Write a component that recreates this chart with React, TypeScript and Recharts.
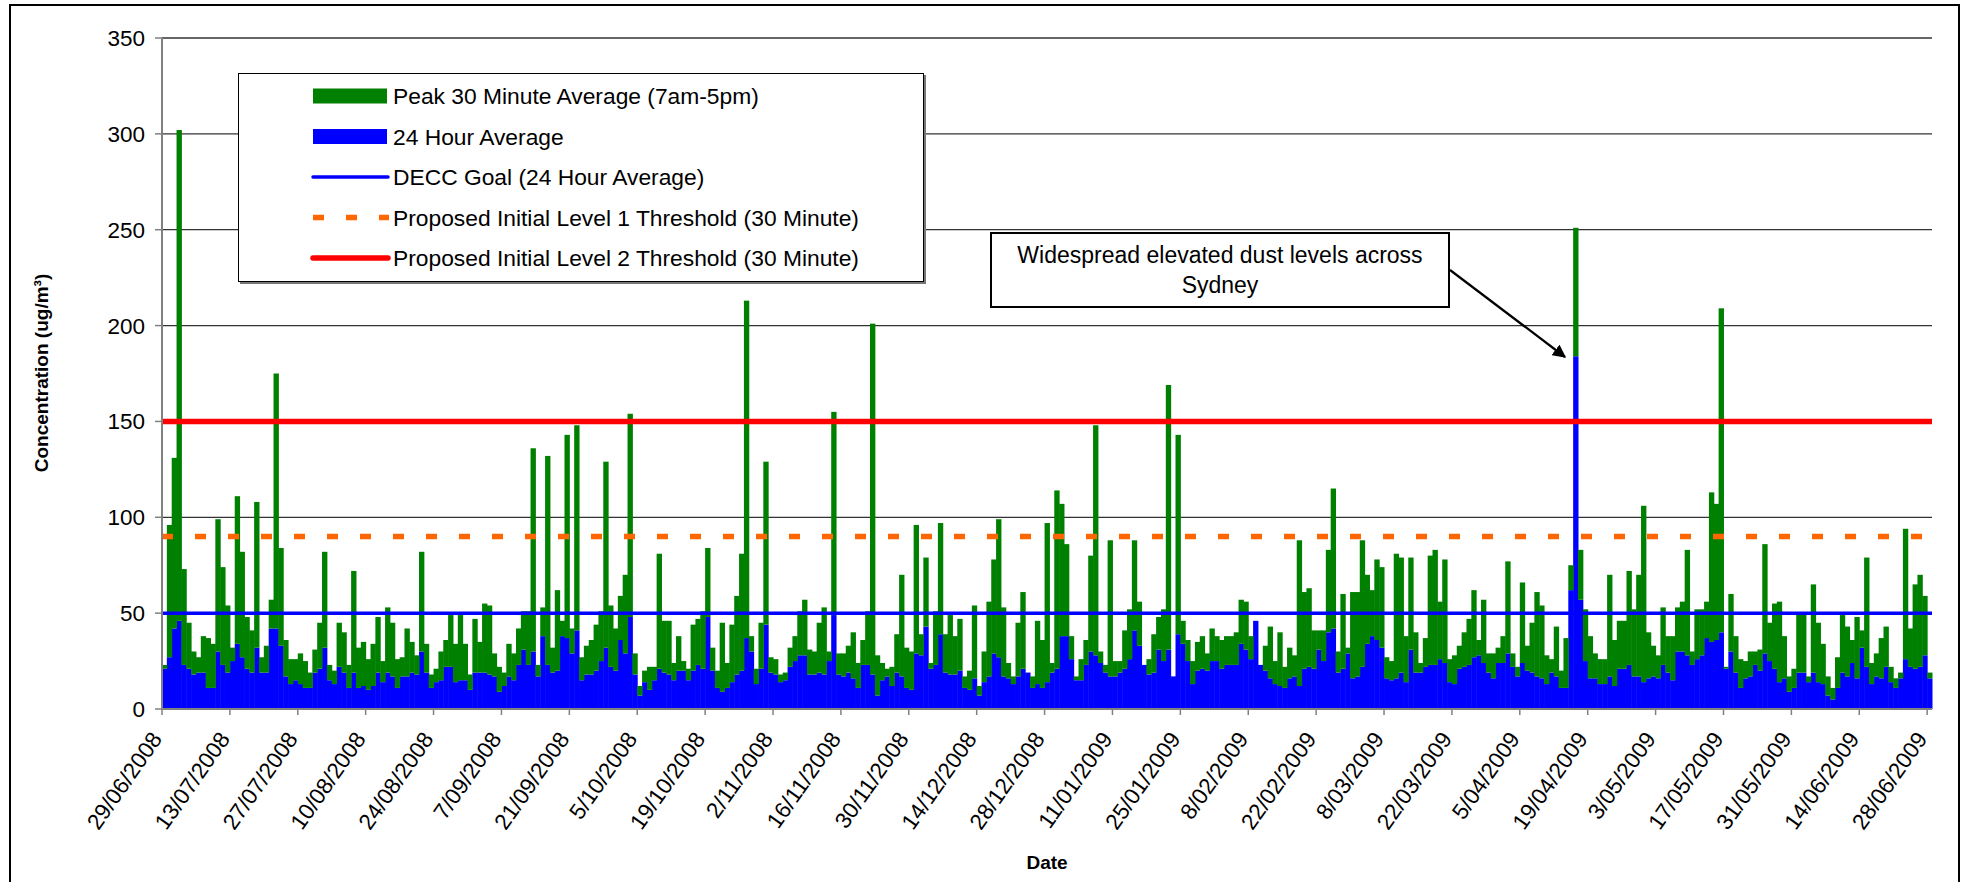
import { BarChart, Bar, XAxis, YAxis, CartesianGrid, ReferenceLine } from 'recharts';

// one value per day, 29/06/2008 .. 28/06/2009 (ug/m3)
const peak30Min: number[] = [
  23, 96, 131, 302, 73, 45, 30, 27, 38, 37,
  34, 99, 74, 54, 32, 111, 82, 48, 41, 108,
  27, 33, 57, 175, 84, 36, 26, 26, 29, 25,
  19, 31, 45, 82, 23, 20, 45, 40, 23, 72,
  32, 35, 26, 34, 48, 25, 53, 45, 26, 27,
  42, 35, 28, 82, 34, 18, 21, 30, 36, 49,
  34, 49, 34, 18, 47, 35, 55, 54, 29, 22,
  19, 34, 29, 42, 51, 51, 136, 23, 53, 132,
  32, 62, 46, 143, 42, 148, 27, 33, 36, 44,
  51, 129, 54, 42, 59, 70, 154, 29, 12, 20,
  22, 22, 81, 46, 46, 24, 38, 25, 21, 44,
  47, 51, 84, 32, 20, 45, 24, 44, 59, 81,
  213, 38, 21, 45, 129, 27, 26, 18, 19, 32,
  38, 51, 57, 31, 30, 45, 53, 30, 155, 29,
  29, 33, 40, 24, 36, 51, 201, 28, 24, 21,
  22, 39, 70, 32, 30, 96, 39, 79, 24, 51,
  97, 39, 49, 38, 47, 17, 20, 54, 12, 30,
  56, 78, 99, 53, 24, 17, 45, 61, 19, 17,
  46, 36, 97, 24, 114, 107, 86, 38, 17, 26,
  36, 80, 148, 30, 23, 88, 25, 25, 41, 52,
  88, 56, 23, 26, 39, 48, 52, 169, 17, 143,
  46, 36, 25, 35, 38, 29, 42, 38, 36, 38,
  38, 40, 57, 56, 38, 46, 23, 33, 43, 25,
  40, 22, 32, 28, 88, 61, 63, 41, 41, 41,
  83, 115, 30, 60, 32, 61, 61, 88, 70, 62,
  78, 74, 27, 25, 81, 79, 38, 79, 40, 24,
  37, 80, 83, 56, 78, 26, 28, 33, 40, 47,
  62, 36, 57, 29, 29, 32, 38, 77, 29, 22,
  66, 33, 45, 61, 54, 28, 26, 43, 20, 37,
  75, 251, 83, 52, 38, 29, 26, 26, 70, 36,
  46, 46, 72, 52, 70, 106, 40, 33, 28, 53,
  38, 38, 53, 56, 83, 30, 52, 52, 56, 113,
  107, 209, 22, 60, 38, 26, 25, 30, 30, 31,
  86, 45, 55, 56, 38, 17, 21, 50, 50, 17,
  65, 45, 34, 17, 11, 27, 49, 43, 36, 48,
  41, 79, 24, 29, 37, 43, 22, 16, 19, 94,
  42, 65, 70, 59, 19,
];

const avg24Hour: number[] = [
  21, 27, 42, 46, 23, 21, 18, 19, 19, 11,
  11, 30, 23, 19, 25, 34, 27, 21, 19, 32,
  19, 19, 42, 42, 33, 17, 13, 15, 13, 11,
  11, 19, 21, 32, 15, 13, 22, 19, 11, 19,
  11, 12, 10, 12, 19, 14, 19, 17, 11, 17,
  17, 19, 18, 30, 19, 11, 14, 15, 22, 22,
  14, 15, 15, 10, 19, 19, 19, 18, 17, 9,
  12, 17, 15, 23, 31, 23, 30, 17, 38, 23,
  19, 20, 38, 37, 29, 41, 15, 18, 18, 20,
  25, 32, 22, 20, 36, 29, 48, 18, 7, 14,
  10, 15, 21, 19, 18, 15, 20, 20, 15, 20,
  23, 21, 48, 20, 11, 9, 11, 14, 18, 20,
  37, 30, 13, 21, 44, 19, 18, 14, 15, 22,
  25, 28, 28, 18, 18, 19, 18, 25, 49, 18,
  17, 19, 16, 11, 23, 23, 18, 7, 15, 17,
  12, 19, 17, 11, 10, 29, 28, 43, 21, 23,
  39, 19, 18, 18, 20, 11, 10, 16, 7, 14,
  17, 29, 27, 17, 16, 13, 17, 21, 19, 11,
  13, 11, 14, 19, 21, 38, 38, 26, 15, 15,
  23, 30, 28, 24, 19, 17, 17, 19, 21, 26,
  41, 33, 23, 18, 19, 31, 25, 31, 17, 39,
  34, 25, 13, 20, 21, 20, 25, 25, 21, 23,
  23, 23, 34, 31, 26, 46, 23, 20, 16, 13,
  12, 11, 16, 17, 12, 21, 22, 21, 31, 25,
  40, 42, 19, 21, 29, 16, 17, 22, 34, 38,
  36, 32, 16, 15, 16, 19, 14, 31, 19, 19,
  22, 23, 23, 26, 24, 14, 13, 21, 22, 23,
  27, 28, 24, 19, 16, 24, 24, 29, 22, 17,
  24, 20, 19, 17, 16, 13, 19, 17, 11, 11,
  62, 184, 57, 25, 16, 16, 13, 13, 17, 12,
  21, 21, 23, 17, 17, 14, 16, 17, 16, 23,
  19, 15, 30, 30, 28, 23, 26, 28, 37, 35,
  36, 40, 21, 30, 19, 11, 16, 17, 23, 20,
  29, 25, 21, 14, 16, 9, 11, 19, 19, 14,
  19, 14, 13, 7, 5, 11, 19, 17, 24, 16,
  32, 22, 13, 17, 16, 22, 14, 11, 16, 26,
  22, 21, 22, 28, 16,
];

const DATE_TICKS = [
  '29/06/2008', '13/07/2008', '27/07/2008', '10/08/2008', '24/08/2008', '7/09/2008',
  '21/09/2008', '5/10/2008', '19/10/2008', '2/11/2008', '16/11/2008', '30/11/2008',
  '14/12/2008', '28/12/2008', '11/01/2009', '25/01/2009', '8/02/2009', '22/02/2009',
  '8/03/2009', '22/03/2009', '5/04/2009', '19/04/2009', '3/05/2009', '17/05/2009',
  '31/05/2009', '14/06/2009', '28/06/2009',
];

const Y_TICKS = [0, 50, 100, 150, 200, 250, 300, 350];

const DECC_GOAL = 50;
const LEVEL_1 = 90;
const LEVEL_2 = 150;

const FONT = '"Liberation Sans", Arial, sans-serif';
const PLOT_W = 1770;
const BAND = PLOT_W / peak30Min.length;

function dayLabel(offset: number): string {
  const d = new Date(Date.UTC(2008, 5, 29 + offset));
  const mm = String(d.getUTCMonth() + 1).padStart(2, '0');
  return `${d.getUTCDate()}/${mm}/${d.getUTCFullYear()}`;
}

// blue 24h average at the bottom, the rest of the peak stacked on top
const data = peak30Min.map((peak, i) => ({
  date: dayLabel(i),
  avg: avg24Hour[i],
  peakRest: Math.max(peak - avg24Hour[i], 0),
}));

function DateTick(props: any) {
  const { x, y, payload } = props;
  const edge = x - BAND / 2;
  return (
    <g>
      <line x1={edge} y1={y} x2={edge} y2={y + 6} stroke="#808080" strokeWidth={1.5} />
      <text
        x={edge + 1}
        y={y + 30}
        textAnchor="end"
        fontSize={22.5}
        fontFamily={FONT}
        fill="#000"
        transform={`rotate(-55, ${edge + 1}, ${y + 30})`}
      >
        {payload.value}
      </text>
    </g>
  );
}

function FullBar(props: any) {
  const { x, y, width, height, fill } = props;
  if (!height || height <= 0) return null;
  return <rect x={x} y={y} width={width + 0.5} height={height} fill={fill} />;
}

function LegendBox() {
  const rows = [
    'Peak 30 Minute Average (7am-5pm)',
    '24 Hour Average',
    'DECC Goal (24 Hour Average)',
    'Proposed Initial Level 1 Threshold (30 Minute)',
    'Proposed Initial Level 2 Threshold (30 Minute)',
  ];
  const cy = (k: number) => 22 + 40.5 * k;
  return (
    <div
      style={{
        position: 'absolute',
        left: 238,
        top: 73,
        width: 686,
        height: 209,
        boxSizing: 'border-box',
        border: '1.5px solid #000',
        boxShadow: '2px 2px 0 #777',
        background: '#fff',
      }}
    >
      <svg width={684} height={206} style={{ display: 'block' }}>
        <rect x={74} y={cy(0) - 7.5} width={74} height={15} fill="#008000" />
        <rect x={74} y={cy(1) - 7.5} width={74} height={15} fill="#0000FF" />
        <line x1={74} y1={cy(2)} x2={149} y2={cy(2)} stroke="#0000FF" strokeWidth={3.5} strokeLinecap="round" />
        <line x1={74} y1={cy(3)} x2={150} y2={cy(3)} stroke="#FF6600" strokeWidth={5.5} strokeDasharray="11 22" />
        <line x1={74} y1={cy(4)} x2={149} y2={cy(4)} stroke="#FF0000" strokeWidth={5.5} strokeLinecap="round" />
        {rows.map((r, k) => (
          <text key={r} x={154} y={cy(k)} dominantBaseline="central" fontSize={22.8} fontFamily={FONT} fill="#000">
            {r}
          </text>
        ))}
      </svg>
    </div>
  );
}

export default function App() {
  return (
    <div style={{ position: 'absolute', left: 0, top: 0, width: 1962, height: 882, overflow: 'hidden', background: '#fff' }}>
      <div
        style={{
          position: 'absolute',
          left: 9,
          top: 4,
          width: 1951,
          height: 900,
          boxSizing: 'border-box',
          border: '2.5px solid #000',
        }}
      />
      <div style={{ position: 'absolute', left: 0, top: 0 }}>
        <BarChart
          width={1962}
          height={882}
          data={data}
          margin={{ top: 38, right: 30, bottom: 73, left: 82 }}
          barCategoryGap={0}
          barGap={0}
        >
          <CartesianGrid vertical={false} stroke="#333" strokeWidth={1.3} />
          <XAxis
            dataKey="date"
            ticks={DATE_TICKS}
            interval={0}
            height={100}
            tickSize={0}
            tickMargin={0}
            tickLine={false}
            axisLine={{ stroke: '#808080', strokeWidth: 2 }}
            tick={(p: any) => <DateTick {...p} />}
          />
          <YAxis
            type="number"
            domain={[0, 350]}
            ticks={Y_TICKS}
            width={80}
            tickSize={7}
            tickMargin={10}
            tickLine={{ stroke: '#808080', strokeWidth: 1.5 }}
            axisLine={{ stroke: '#808080', strokeWidth: 2 }}
            tick={{ fontSize: 22.5, fontFamily: FONT, fill: '#000' }}
          />
          <Bar dataKey="avg" stackId="day" fill="#0000FF" barSize={BAND - 0.002} shape={FullBar} isAnimationActive={false} />
          <Bar dataKey="peakRest" stackId="day" fill="#008000" barSize={BAND - 0.002} shape={FullBar} isAnimationActive={false} />
          <ReferenceLine y={DECC_GOAL} stroke="#0000FF" strokeWidth={3.5} />
          <ReferenceLine y={LEVEL_1} stroke="#FF6600" strokeWidth={5.5} strokeDasharray="11 22" />
          <ReferenceLine y={LEVEL_2} stroke="#FF0000" strokeWidth={5.5} />
        </BarChart>
      </div>

      <LegendBox />

      <div
        style={{
          position: 'absolute',
          left: 990,
          top: 232,
          width: 460,
          height: 76,
          boxSizing: 'border-box',
          border: '2px solid #000',
          background: '#fff',
          paddingTop: 6,
          textAlign: 'center',
          fontFamily: FONT,
          fontSize: 23,
          lineHeight: '30px',
          color: '#000',
        }}
      >
        Widespread elevated dust levels across
        <br />
        Sydney
      </div>

      <svg width={1962} height={882} style={{ position: 'absolute', left: 0, top: 0, pointerEvents: 'none' }}>
        <defs>
          <marker id="head" viewBox="0 0 10 10" refX={9} refY={5} markerWidth={6} markerHeight={6} orient="auto">
            <path d="M0,0 L10,5 L0,10 z" fill="#000" />
          </marker>
        </defs>
        <line x1={1450} y1={270} x2={1565} y2={357} stroke="#000" strokeWidth={2.2} markerEnd="url(#head)" />
        <text
          x={41}
          y={373}
          textAnchor="middle"
          dominantBaseline="central"
          fontSize={19}
          fontWeight="bold"
          fontFamily={FONT}
          transform="rotate(-90, 41, 373)"
        >
          Concentration (ug/m³)
        </text>
        <text x={1047} y={862} textAnchor="middle" dominantBaseline="central" fontSize={19} fontWeight="bold" fontFamily={FONT}>
          Date
        </text>
      </svg>
    </div>
  );
}
